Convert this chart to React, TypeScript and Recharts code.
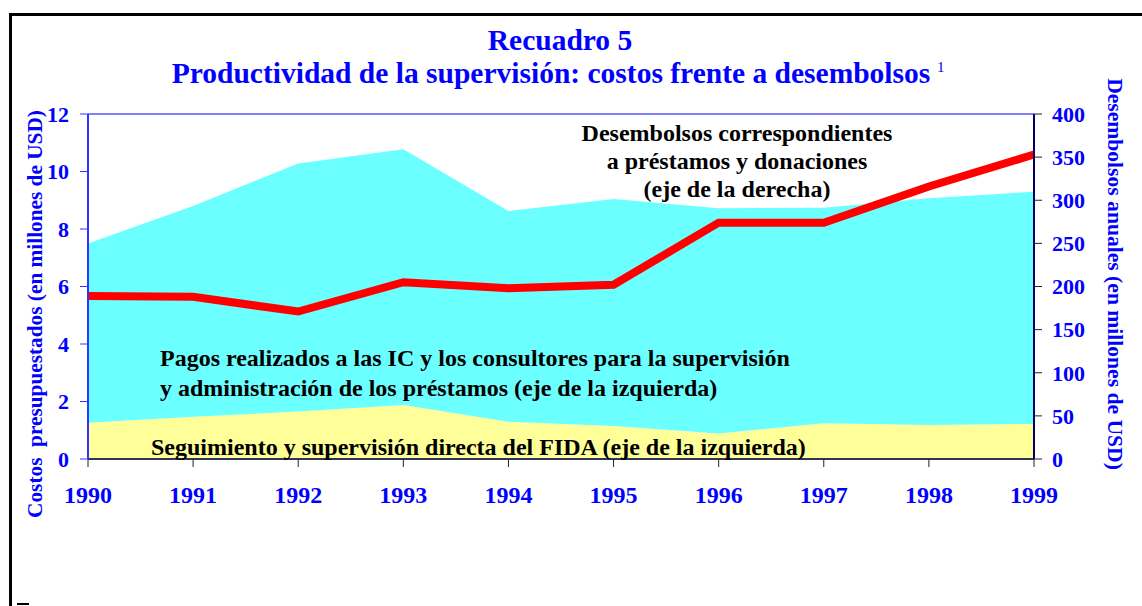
import { ComposedChart, Area, Line, XAxis, YAxis, ReferenceLine } from 'recharts';

const years = ['1990', '1991', '1992', '1993', '1994', '1995', '1996', '1997', '1998', '1999'];
// left axis, stacked (millones de USD)
const fidaDirecta = [1.26, 1.47, 1.65, 1.88, 1.3, 1.15, 0.89, 1.24, 1.18, 1.22];
const pagosIC = [6.24, 7.33, 8.63, 8.89, 7.33, 7.89, 7.83, 7.5, 7.89, 8.08];
// right axis
const desembolsos = [189, 188, 171, 205, 198, 202, 274, 274, 316, 353];

const leftTicks = [0, 2, 4, 6, 8, 10, 12];
const rightTicks = [0, 50, 100, 150, 200, 250, 300, 350, 400];

const data = years.map((year, i) => ({
  year,
  fida: fidaDirecta[i],
  pagos: pagosIC[i],
  desembolsos: desembolsos[i],
}));

const SERIF = '"Times New Roman", "Liberation Serif", serif';
const BLUE = '#0000ff';

const yTick = { fill: BLUE, fontSize: 22, fontWeight: 700, fontFamily: SERIF };
const xTick = { ...yTick, fontSize: 24 };

export default function App() {
  return (
    <div style={{ position: 'absolute', left: 0, top: 0, width: 1142, height: 606, background: '#fff' }}>
      <ComposedChart
        width={1142}
        height={606}
        data={data}
        margin={{ top: 114, right: 58, bottom: 107, left: 48 }}
      >
        <XAxis
          dataKey="year"
          height={40}
          tick={xTick}
          tickSize={8}
          tickMargin={19}
          axisLine={{ stroke: '#333355', strokeWidth: 2 }}
          tickLine={{ stroke: '#222222' }}
          interval={0}
        />
        <YAxis
          yAxisId="left"
          orientation="left"
          width={40}
          domain={[0, 12]}
          ticks={leftTicks}
          tick={yTick}
          tickSize={8}
          tickMargin={11}
          axisLine={{ stroke: '#3333ff', strokeWidth: 2 }}
          tickLine={{ stroke: '#3333ff' }}
        />
        <YAxis
          yAxisId="right"
          orientation="right"
          width={50}
          domain={[0, 400]}
          ticks={rightTicks}
          tick={{ ...yTick, textAnchor: 'start' }}
          tickSize={8}
          tickMargin={10}
          axisLine={{ stroke: '#000066', strokeWidth: 2 }}
          tickLine={{ stroke: '#222222' }}
        />
        <Area
          yAxisId="left"
          type="linear"
          dataKey="fida"
          stackId="costos"
          fill="#ffff99"
          fillOpacity={1}
          stroke="none"
          isAnimationActive={false}
        />
        <Area
          yAxisId="left"
          type="linear"
          dataKey="pagos"
          stackId="costos"
          fill="#6bffff"
          fillOpacity={1}
          stroke="none"
          isAnimationActive={false}
        />
        <ReferenceLine yAxisId="left" y={12} stroke="#5555ff" strokeWidth={1.5} />
        <Line
          yAxisId="right"
          type="linear"
          dataKey="desembolsos"
          stroke="#ff0000"
          strokeWidth={8}
          dot={false}
          isAnimationActive={false}
        />
      </ComposedChart>

      <svg
        width={1142}
        height={606}
        style={{ position: 'absolute', left: 0, top: 0, pointerEvents: 'none' }}
        fontFamily={SERIF}
        fontWeight={700}
      >
        {/* frame */}
        <rect x={9} y={13} width={1133} height={3} fill="#000" />
        <rect x={9} y={13} width={3} height={593} fill="#000" />
        <rect x={17} y={603} width={12} height={2} fill="#000" />

        <text x={560} y={50} textAnchor="middle" fontSize={29.5} fill={BLUE}>
          Recuadro 5
        </text>
        <text x={551} y={83} textAnchor="middle" fontSize={29.5} fill={BLUE}>
          Productividad de la supervisión: costos frente a desembolsos
        </text>
        <text x={937} y={72} fontSize={15} fontWeight={400} fill={BLUE}>
          1
        </text>

        <text
          transform="translate(42,314) rotate(-90)"
          textAnchor="middle"
          fontSize={21.3}
          fill={BLUE}
          style={{ whiteSpace: 'pre' }}
        >
          {'Costos  presupuestados (en millones de USD)'}
        </text>
        <text transform="translate(1108,274) rotate(90)" textAnchor="middle" fontSize={21.6} fill={BLUE}>
          Desembolsos anuales (en millones de USD)
        </text>

        <g fontSize={24} fill="#000" textAnchor="middle">
          <text x={737} y={141}>Desembolsos correspondientes</text>
          <text x={737} y={169}>a préstamos y donaciones</text>
          <text x={737} y={197}>(eje de la derecha)</text>
        </g>
        <g fontSize={24} fill="#000">
          <text x={160} y={366}>Pagos realizados a las IC y los consultores para la supervisión</text>
          <text x={160} y={396}>y administración de los préstamos (eje de la izquierda)</text>
          <text x={151} y={455}>Seguimiento y supervisión directa del FIDA (eje de la izquierda)</text>
        </g>
      </svg>
    </div>
  );
}
